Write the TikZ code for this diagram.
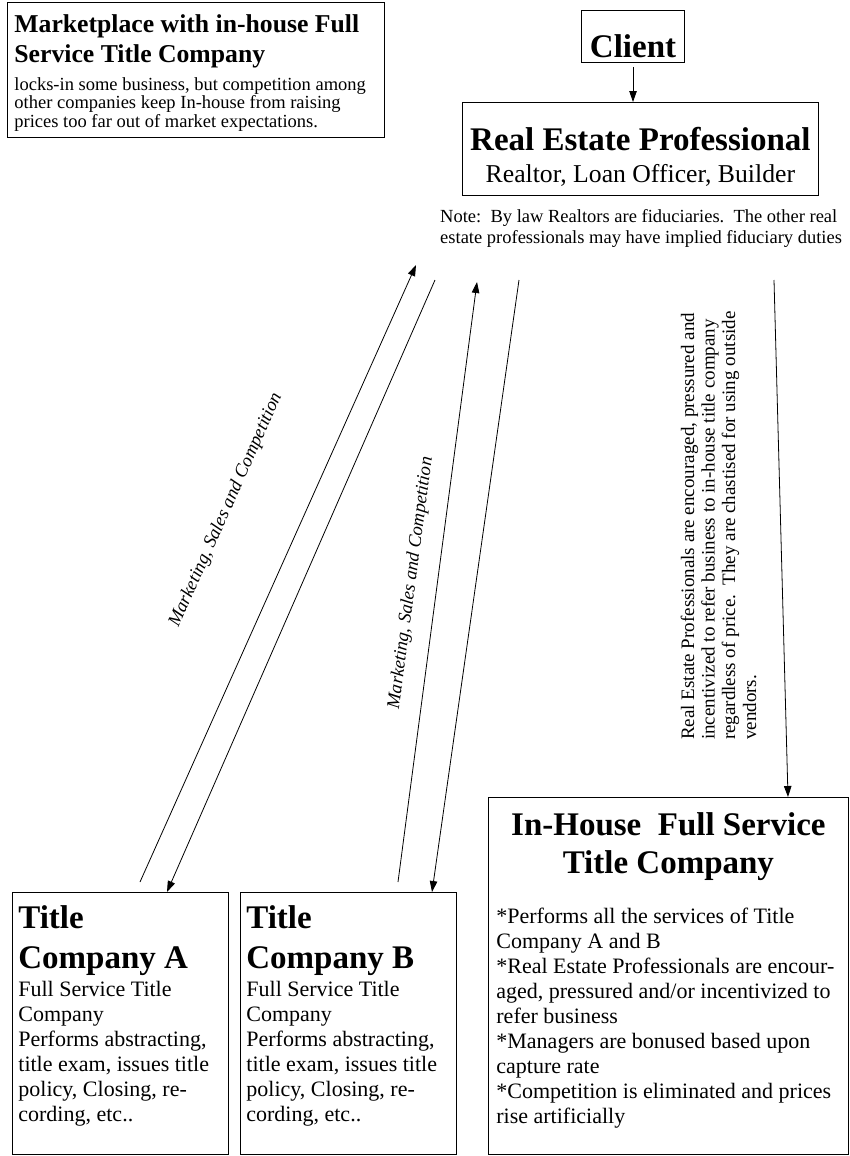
\documentclass[tikz,border=0pt]{standalone}
\usepackage{fontspec}
\setmainfont{Liberation Serif}
\usetikzlibrary{arrows.meta}
\newcommand{\gapfix}{\spaceskip=.25em\xspaceskip=.25em\relax}
\newcommand{\szSmall}{\fontsize{18.5}{21}\selectfont\gapfix}
\newcommand{\szNote}{\fontsize{18.5}{18.5}\selectfont\gapfix}
\newcommand{\szBody}{\fontsize{22}{25}\selectfont\gapfix}
\newcommand{\szSub}{\fontsize{25.7}{30}\selectfont\gapfix}
\newcommand{\szHead}{\fontsize{33}{40}\selectfont\gapfix}

\begin{document}
\begin{tikzpicture}[x=1pt,y=-1pt]
		\tikzset{
			boxnode/.style={draw=black,line width=0.8pt,inner ysep=0pt,inner xsep=6pt,anchor=north west,align=left},
		}
		\tikzset{
			notenode/.style={inner sep=0pt,align=left,font=\szSmall},
			labelnode/.style={inner sep=0pt,font=\szSmall\itshape},
		}
		\tikzset{
			edge/.style={color=black,line width=0.8pt,-{Triangle[length=11pt,width=7.5pt]}},
		}
		
		\useasboundingbox (0,0) rectangle (850,1156);
		
		% top of the page
		\node[boxnode,inner xsep=7pt,text width=363pt,text height=30pt,text depth=105pt] (market) at (7,2) {{\szSub\bfseries Marketplace with in-house Full\\Service Title Company\par}\vspace{9.5pt}{\szNote locks-in some business, but competition among\\other companies keep In-house from raising\\prices too far out of market expectations.\par}};
		
		\node[boxnode,anchor=north,inner xsep=8.5pt,text height=47pt,text depth=5pt,font=\szHead\bfseries] (client) at (633,10) {Client};
		\node[boxnode,inner xsep=0pt,text width=356pt,text height=48pt,text depth=45pt,align=center] (rep) at (462,102) {{\fontsize{33}{38}\selectfont\gapfix\bfseries Real Estate Professional\par}{\fontsize{25.7}{32}\selectfont\gapfix Realtor, Loan Officer, Builder\par}};
		\node[notenode,anchor=north west,text width=430pt,text height=13pt] (note) at (440,209) {\szSmall Note:\ \ By law Realtors are fiduciaries.\ \ The other real\\estate professionals may have implied fiduciary duties};
		
		% title companies
		\node[boxnode,text width=204pt,text height=36pt,text depth=226pt] (compA) at (12,892) {{\szHead\bfseries Title\\Company A\par}\vspace{3pt}{\szBody Full Service Title\\Company\\Performs abstracting,\\title exam, issues title\\policy, Closing, re-\\cording, etc..\par}};
		\node[boxnode,text width=204pt,text height=36pt,text depth=226pt] (compB) at (240,892) {{\szHead\bfseries Title\\Company B\par}\vspace{3pt}{\szBody Full Service Title\\Company\\Performs abstracting,\\title exam, issues title\\policy, Closing, re-\\cording, etc..\par}};
		\node[boxnode,inner xsep=8pt,text width=344pt,text height=38pt,text depth=319pt] (inhouse) at (488,797) {{\fontsize{33}{38}\selectfont\gapfix\bfseries\centering In-House~ Full Service\\Title Company\par}\vspace{25pt}{\szBody *Performs all the services of Title\\Company A and B\\{*}Real Estate Professionals are encour-\\aged, pressured and/or incentivized to\\refer business\\{*}Managers are bonused based upon\\capture rate\\{*}Competition is eliminated and prices\\rise artificially\par}};
		
		% slanted texts
		\node[labelnode,rotate=66] (mscA) at (226,510) {Marketing, Sales and Competition};
		\node[labelnode,rotate=82.5] (mscB) at (411,583) {Marketing, Sales and Competition};
		\node[notenode,rotate=90,anchor=north west,text width=450pt,text height=13pt] (push) at (681,740) {\fontsize{19}{20.5}\selectfont\gapfix Real Estate Professionals are encouraged, pressured and\\incentivized to refer business to in-house title company\\regardless of price.\ \ They are chastised for using outside\\vendors.};
		
		\coordinate (upA) at (416,265);
		\coordinate (dnA) at (435,280);
		\coordinate (upB) at (477,282);
		\coordinate (dnB) at (519,280);
		\coordinate (dnIn) at (774,280);
		
		\draw[edge,shorten <=4pt] (client) to (client |- rep.north);
		\draw[edge] ([xshift=128pt,yshift=10pt]compA.north west) to (upA);
		\draw[edge] (dnA) to ([xshift=155pt]compA.north west);
		\draw[edge] ([xshift=158pt,yshift=10pt]compB.north west) to (upB);
		\draw[edge] (dnB) to ([xshift=192pt]compB.north west);
		\draw[edge] (dnIn) to ([xshift=300pt]inhouse.north west);
\end{tikzpicture}
\end{document}
